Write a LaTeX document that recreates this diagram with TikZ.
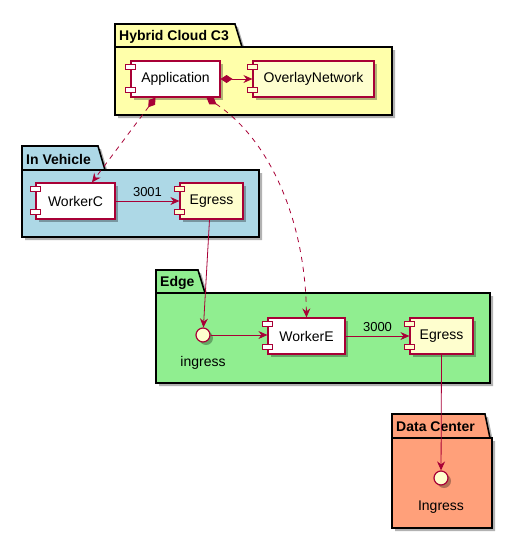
\documentclass[tikz,border=0pt]{standalone}
\usepackage{fontspec}
\setmainfont{Liberation Sans}
\usetikzlibrary{arrows.meta,shadows}

\definecolor{plumred}{HTML}{A80036}
\definecolor{compfill}{HTML}{FEFECE}
\definecolor{hybridfill}{HTML}{FFFFAA}
\definecolor{vehiclefill}{HTML}{ADD8E6}
\definecolor{edgefill}{HTML}{90EE90}
\definecolor{centerfill}{HTML}{FFA07A}

\tikzset{
	plumtip/.tip={Stealth[length=9pt,width=8pt,inset=3pt]},
	plumdia/.tip={Diamond[length=12pt,width=8pt]},
	shade3/.style={drop shadow={shadow xshift=3pt,shadow yshift=-3pt,opacity=.3,fill=black}},
	pkg/.style={draw=black,line width=1.6pt,shade3},
	pkgtitle/.style={anchor=west,inner sep=0pt,font=\fontsize{14}{16}\selectfont\bfseries},
	comp/.style={draw=plumred,line width=1.2pt,fill=white,minimum height=36pt,
		inner sep=0pt,font=\fontsize{14}{16}\selectfont,shade3},
	iface/.style={circle,draw=plumred,line width=1.2pt,fill=compfill,
		minimum size=14pt,inner sep=0pt,shade3},
	lbl/.style={font=\fontsize{14}{16}\selectfont,inner sep=0pt},
	portlbl/.style={font=\fontsize{13}{15}\selectfont,above,yshift=1pt},
	conn/.style={draw=plumred,line width=0.8pt,-plumtip},
	dep/.style={conn,dash pattern=on 5pt off 5pt}
}

\begin{document}
\begin{tikzpicture}[x=1pt,y=-1pt]
	\useasboundingbox (0,0) rectangle (512,538);

	% packages
	\foreach \xa/\ya/\xt/\xs/\yb/\xb/\yc/\col/\nm/\ttl in
	{115/24/235/242/47/392/115/hybridfill/hybrid/Hybrid Cloud C3,
	 22/146/98/105/170/259/237/vehiclefill/vehicle/In Vehicle,
	 156/270/198/205/293/490/383/edgefill/edge/Edge,
	 392/414/485/490/438/492/528/centerfill/center/Data Center}
	{
		\filldraw[pkg,fill=\col] (\xa,\ya) -- (\xt,\ya) -- (\xs,\yb) -- (\xb,\yb)
			-- (\xb,\yc) -- (\xa,\yc) -- cycle;
		\draw[line width=1.6pt] (\xa,\yb) -- (\xs,\yb);
		\node[pkgtitle] (\nm-title) at (\xa+4,{(\ya+\yb)/2+1}) {\ttl};
	}

	% components
	\node[comp,minimum width=89pt] (app) at (175.5,79) {Application};
	\node[comp,minimum width=121pt,fill=compfill] (overlay) at (313.5,79) {OverlayNetwork};
	\node[comp,minimum width=79pt] (workerc) at (75.5,201) {WorkerC};
	\node[comp,minimum width=63pt,fill=compfill] (egressc) at (211.5,201) {Egress};
	\node[comp,minimum width=77pt] (workere) at (306.5,336) {WorkerE};
	\node[comp,minimum width=63pt,fill=compfill] (egresse) at (441.5,336) {Egress};

	\foreach \c/\f in {app/white,overlay/compfill,workerc/white,egressc/compfill,workere/white,egresse/compfill}
	{
		\filldraw[draw=plumred,line width=1pt,fill=\f] ([xshift=-5pt,yshift=-4pt]\c.north west) rectangle ++(10,5);
		\filldraw[draw=plumred,line width=1pt,fill=\f] ([xshift=-5pt,yshift=10pt]\c.south west) rectangle ++(10,5);
	}

	% interfaces
	\node[iface] (ingr) at (203,335) {};
	\node[lbl] (ingr-name) at (203,363) {ingress};
	\node[iface] (dcingr) at (441,478) {};
	\node[lbl] (dcingr-name) at (441,507) {Ingress};

	% connectors
	\draw[conn,plumdia-plumtip] (app) -- (overlay);
	\draw[dep,plumdia-plumtip] ([xshift=-20pt]app.south) -- ([xshift=16.5pt]workerc.north);
	\draw[dep,plumdia-plumtip] ([xshift=31pt]app.south) .. controls (270,140) and (305,220) .. (workere.north);
	\draw[conn] (workerc) -- node[portlbl] (port3001) {3001} (egressc);
	\draw[conn] ([xshift=-2pt]egressc.south) -- (ingr);
	\draw[conn] (ingr) -- (ingr -| workere.west);
	\draw[conn] (workere) -- node[portlbl] (port3000) {3000} (egresse);
	\draw[conn] (egresse.south) -- (dcingr);
\end{tikzpicture}
\end{document}
